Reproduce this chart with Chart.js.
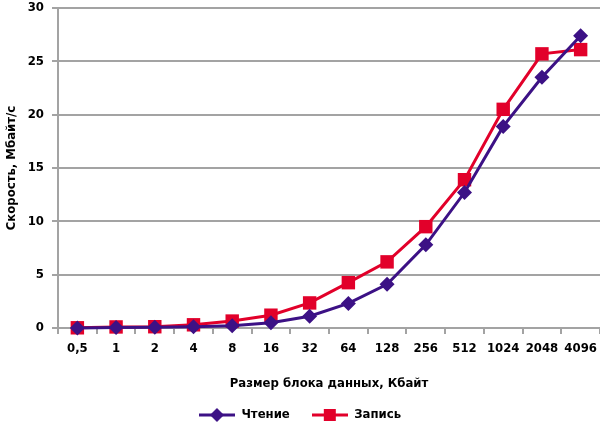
<!DOCTYPE html>
<html>
<head>
<meta charset="utf-8">
<script src="https://cdn.jsdelivr.net/npm/chart.js@4/dist/chart.umd.min.js"></script>
<style>
  html, body { margin: 0; padding: 0; background: #fff; }
  #wrap { width: 600px; height: 426px; }
</style>
</head>
<body>
<div id="wrap"><canvas id="chart"></canvas></div>
<script>
const blockSizes = ['0,5', '1', '2', '4', '8', '16', '32', '64', '128', '256', '512', '1024', '2048', '4096'];
const readSpeed  = [0, 0.05, 0.08, 0.12, 0.2, 0.5, 1.1, 2.3, 4.1, 7.8, 12.7, 18.9, 23.5, 27.4];
const writeSpeed = [0.02, 0.1, 0.12, 0.3, 0.65, 1.2, 2.35, 4.25, 6.2, 9.5, 13.9, 20.5, 25.7, 26.1];
const yTicks = [0, 5, 10, 15, 20, 25, 30];

const purple = '#3c1185';
const red = '#e2002a';
const gray = '#a3a3a3';
const fontFamily = "'DejaVu Sans Condensed', sans-serif";

// small legend pictures: line with marker
function legendIcon(color, style) {
  const c = document.createElement('canvas');
  c.width = 36; c.height = 16;
  const ctx = c.getContext('2d');
  ctx.strokeStyle = color;
  ctx.lineWidth = 3;
  ctx.beginPath();
  ctx.moveTo(0, 8); ctx.lineTo(36, 8);
  ctx.stroke();
  ctx.fillStyle = color;
  ctx.beginPath();
  if (style === 'diamond') {
    ctx.moveTo(18, 1); ctx.lineTo(25, 8); ctx.lineTo(18, 15); ctx.lineTo(11, 8);
  } else {
    ctx.rect(12, 2, 12, 12);
  }
  ctx.fill();
  return c;
}

const icons = [legendIcon(purple, 'diamond'), legendIcon(red, 'square')];

// push the legend row a little lower than Chart.js puts it
const legendShift = {
  id: 'legendShift',
  afterLayout(chart) {
    const lg = chart.legend;
    if (!lg) return;
    lg.top += 5.5;
    lg.bottom += 5.5;
    (lg.legendHitBoxes || []).forEach(function(b) { b.top += 5.5; });
  }
};

Chart.defaults.font.family = fontFamily;
Chart.defaults.color = '#000';

const data = {
  labels: blockSizes,
  datasets: [{
    label: 'Чтение',
    data: readSpeed,
    borderColor: purple,
    backgroundColor: purple,
    borderWidth: 3,
    pointStyle: 'rectRot',
    pointRadius: 7.5,
    pointBorderWidth: 0,
    tension: 0,
    clip: false
  }, {
    label: 'Запись',
    data: writeSpeed,
    borderColor: red,
    backgroundColor: red,
    borderWidth: 3,
    pointStyle: 'rect',
    pointRadius: 9.5,
    pointBorderWidth: 0,
    tension: 0,
    clip: false
  }]
};

const config = {
  type: 'line',
  data: data,
  plugins: [legendShift],
  options: {
    responsive: true,
    maintainAspectRatio: false,
    animation: false,
    layout: { autoPadding: false, padding: { top: 8, right: 0, left: 0, bottom: 0 } },
    plugins: {
      tooltip: { enabled: false },
      legend: {
        position: 'bottom',
        labels: {
          usePointStyle: true,
          pointStyleWidth: 36,
          padding: 22,
          font: { size: 13, weight: 'bold' },
          generateLabels: function(chart) {
            return chart.data.datasets.map(function(ds, i) {
              return {
                text: ds.label,
                pointStyle: icons[i],
                fillStyle: ds.borderColor,
                strokeStyle: ds.borderColor,
                lineWidth: 0,
                hidden: false,
                datasetIndex: i
              };
            });
          }
        }
      }
    },
    scales: {
      x: {
        offset: true,
        grid: {
          offset: true,
          drawOnChartArea: false,
          color: gray,
          lineWidth: 2,
          tickLength: 6
        },
        border: { color: gray, width: 2 },
        ticks: {
          font: { size: 13, weight: 'bold', lineHeight: 2.3 },
          padding: 0,
          maxRotation: 0,
          autoSkip: false
        },
        title: {
          display: true,
          text: 'Размер блока данных, Кбайт',
          font: { size: 13, weight: 'bold' },
          padding: { top: 0, bottom: -10 }
        },
        afterFit: function(scale) {
          const legendH = scale.chart.legend ? scale.chart.legend.height : 0;
          scale.height = scale.chart.height - 328 - legendH;
          scale.paddingLeft = 0;
          scale.paddingRight = 0;
        }
      },
      y: {
        min: 0,
        max: 30,
        afterBuildTicks: function(scale) {
          scale.ticks = yTicks.map(function(v) { return { value: v }; });
        },
        grid: {
          color: gray,
          lineWidth: 2,
          tickLength: 6
        },
        border: { color: gray, width: 2 },
        ticks: {
          font: { size: 13, weight: 'bold' },
          padding: 8
        },
        title: {
          display: true,
          text: 'Скорость, Мбайт/с',
          font: { size: 13, weight: 'bold' },
          padding: { top: 4, bottom: 4 }
        },
        afterFit: function(scale) {
          scale.width = 58;
          scale.paddingTop = 0;
          scale.paddingBottom = 0;
        }
      }
    }
  }
};

const myChart = new Chart(document.getElementById('chart'), config);
</script>
</body>
</html>
